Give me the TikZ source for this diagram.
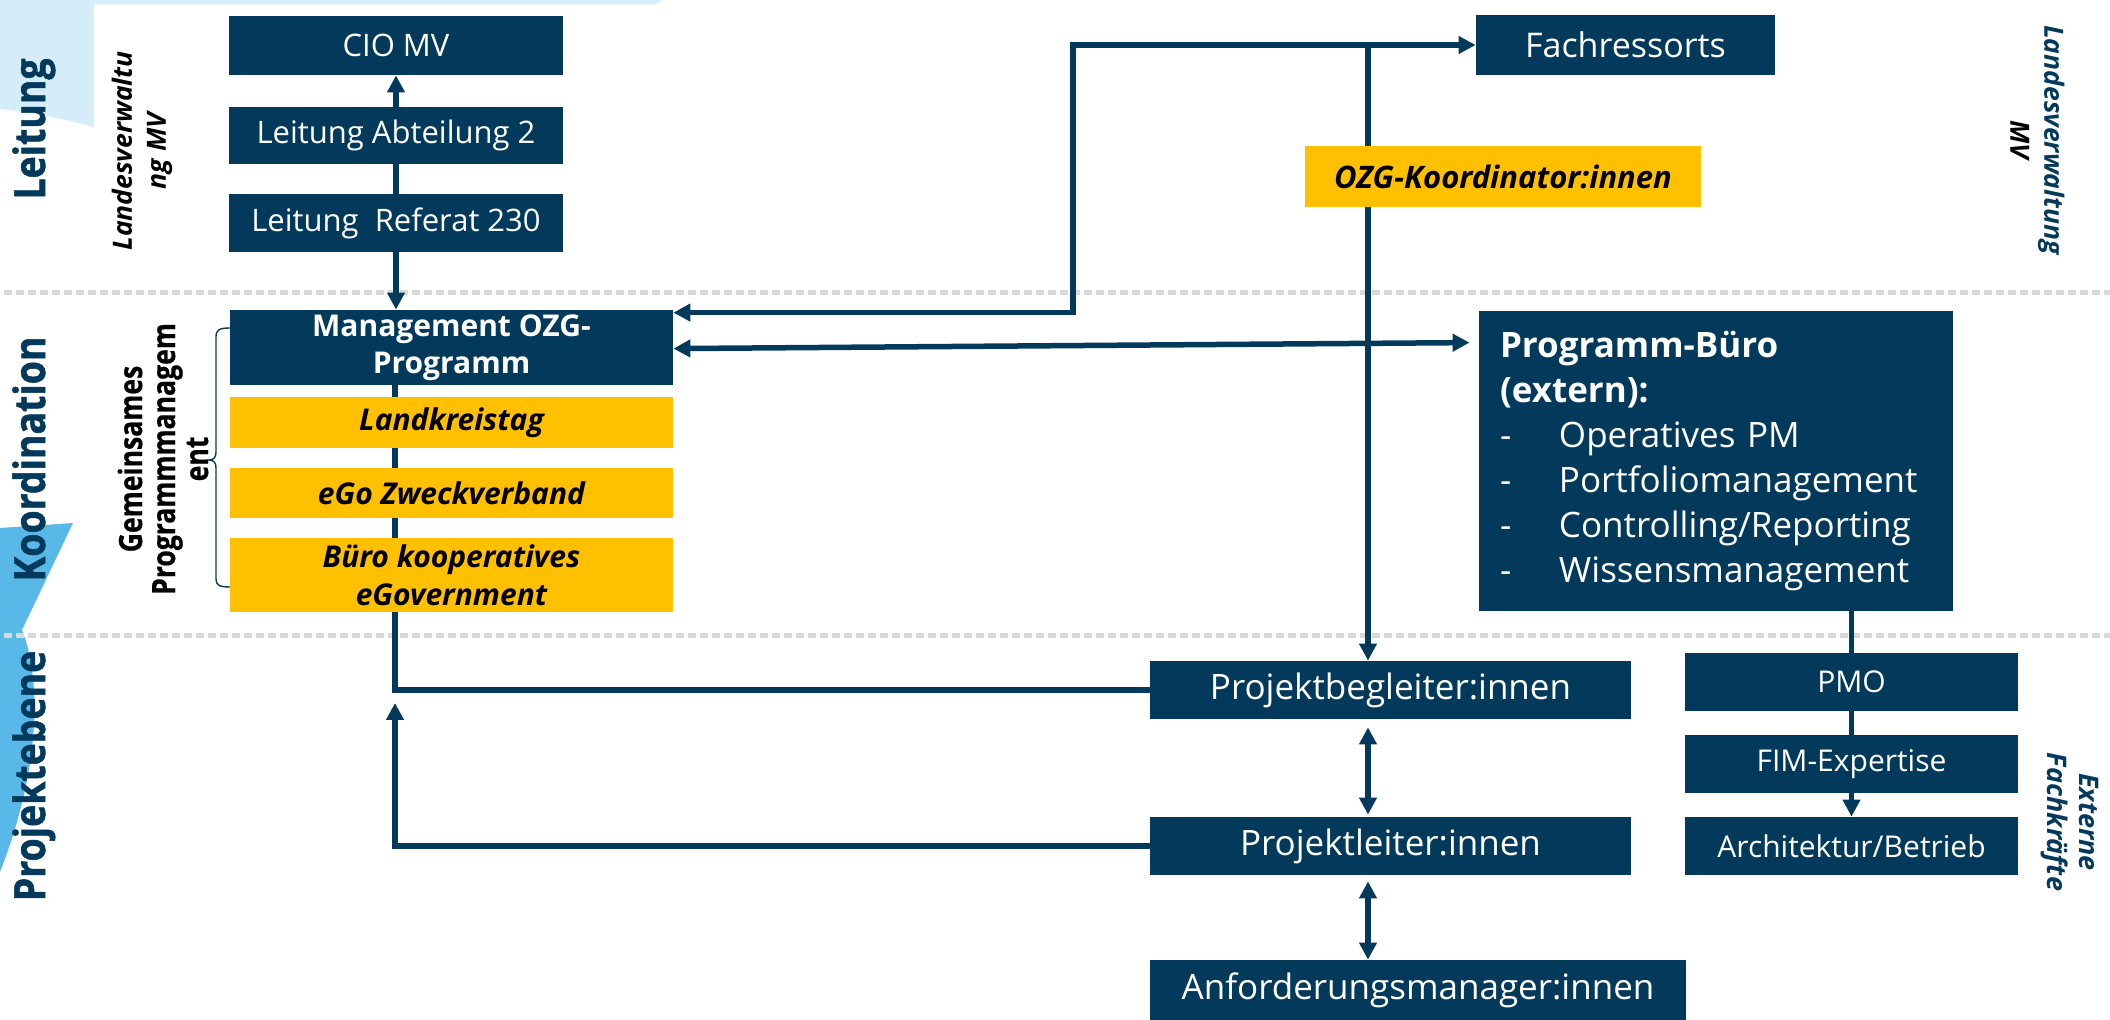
\documentclass[tikz,border=0pt]{standalone}
\usepackage{fontspec}
\setmainfont{Open Sans}
\newfontfamily\sidefont[FakeStretch=0.87,FakeBold=1.2]{Open Sans}
\newfontfamily\gemfont[FakeStretch=0.83,FakeBold=0.6]{Open Sans}
\usetikzlibrary{arrows.meta,calc}
\definecolor{dblue}{RGB}{3,58,92}
\definecolor{ygold}{RGB}{255,192,0}
\definecolor{lblue}{RGB}{213,236,249}
\definecolor{mblue}{RGB}{88,184,231}
\definecolor{dotgray}{RGB}{217,217,217}
\pgfdeclarelayer{bg}
\pgfsetlayers{bg,main}
\tikzset{
  wh/.style 2 args={minimum width=#1*0.5pt, minimum height=#2*0.5pt},
  box/.style={fill=dblue, text=white, inner sep=0pt, align=center},
  ybox/.style={fill=ygold, text=black, inner sep=0pt, align=center},
  fsmall/.style={font=\fontsize{15.5pt}{18pt}\selectfont},
  fright/.style={font=\fontsize{15pt}{18pt}\selectfont},
  fbig/.style={font=\fontsize{17.5pt}{21pt}\selectfont},
  fyel/.style={font=\fontsize{15pt}{19pt}\selectfont\bfseries\itshape},
  conn/.style={draw=dblue, line width=2.75pt},
  tipend/.style={-{Triangle[length=8.5pt,width=8.5pt]}},
  tipboth/.style={{Triangle[length=8.5pt,width=8.5pt]}-{Triangle[length=8.5pt,width=8.5pt]}},
  sidelbl/.style={text=dblue, inner sep=0pt, font=\sidefont\bfseries\fontsize{21.5pt}{24pt}\selectfont},
  smalllbl/.style={inner sep=0pt, align=center, font=\bfseries\itshape\fontsize{13.25pt}{17pt}\selectfont},
}
\begin{document}
\begin{tikzpicture}[x=0.5pt,y=-0.5pt]
\useasboundingbox (0,0) rectangle (2110,1020);

% boxes (left column)
\node[box, fsmall, wh={334}{59}] (cio) at (396,45.5) {CIO MV};
\node[box, fsmall, wh={334}{57}] (abt) at (396,135.5) {Leitung Abteilung 2};
\node[box, fsmall, wh={334}{58}] (ref) at (396,223) {Leitung\ \ Referat 230};
\node[box, wh={443}{75}, font=\fontsize{15pt}{18.5pt}\selectfont\bfseries] (mgmt) at (451.5,347.5) {Management OZG-\\Programm};
\node[ybox, fyel, wh={443}{51}] (lkt) at (451.5,422.5) {Landkreistag};
\node[ybox, fyel, wh={443}{50}] (ego) at (451.5,493) {eGo Zweckverband};
\node[ybox, fyel, wh={443}{74}] (buero) at (451.5,575) {Büro kooperatives\\eGovernment};

% middle / right
\node[box, font=\fontsize{17pt}{20pt}\selectfont, wh={299}{60}] (fach) at (1625.5,45) {Fachressorts};
\node[ybox, font=\fontsize{15.5pt}{19pt}\selectfont\bfseries\itshape, wh={396}{61}] (ozgk) at (1503,176.5) {OZG-Koordinator:innen};
\node[box, wh={474}{300}, align=left, text width=216pt, inner xsep=10.5pt,
      font=\fontsize{17.5pt}{22.5pt}\selectfont] (pb) at (1716,461)
  {\textbf{Programm-Büro}\\\textbf{(extern):}\\
   \makebox[29.5pt][l]{-}Operatives PM\\
   \makebox[29.5pt][l]{-}Portfoliomanagement\\
   \makebox[29.5pt][l]{-}Controlling/Reporting\\
   \makebox[29.5pt][l]{-}Wissensmanagement};
\node[box, fbig, wh={481}{58}] (pbeg) at (1390.5,690) {Projektbegleiter:innen};
\node[box, fbig, wh={481}{58}] (pl) at (1390.5,846) {Projektleiter:innen};
\node[box, fbig, wh={536}{60}] (anf) at (1418,990) {Anforderungsmanager:innen};
\node[box, fright, wh={333}{58}] (pmo) at (1851.5,682) {PMO};
\node[box, fright, wh={333}{58}] (fim) at (1851.5,764) {FIM-Expertise};
\node[box, fright, wh={333}{58}] (arch) at (1851.5,846) {Architektur/Betrieb};

% side labels
\node[sidelbl, rotate=90, anchor=base] (lleit) at (45,129) {Leitung};
\node[sidelbl, rotate=90, anchor=base] (lkoord) at (45,459) {Koordination};
\node[sidelbl, rotate=90, anchor=base] (lprojekt) at (45,776) {Projektebene};
\node[smalllbl, rotate=90] (llv) at (142,151) {Landesverwaltu\\ng MV};
\node[inner sep=0pt, align=center, rotate=90, font=\gemfont\bfseries\fontsize{16pt}{16.5pt}\selectfont] (lgem) at (163,459) {Gemeinsames\\Programmmanagem\\ent};
\node[smalllbl, rotate=-90] (rlv) at (2037.5,140) {\textcolor{dblue}{Landesverwaltung}\\MV};
\node[smalllbl, rotate=-90, text=dblue, font=\bfseries\itshape\fontsize{13.5pt}{16pt}\selectfont] (rext) at (2069.5,822) {Externe\\Fachkräfte};

\coordinate (fcorner) at (1073,45);
\coordinate (vj) at (1368,45);
\coordinate (spine) at (395,385);
\coordinate (plup) at (395,703);

\begin{pgfonlayer}{bg}
  % background shapes
  \fill[lblue] (0,0) -- (662,0) -- (655,4.5) -- (94,4.5) -- (94,127) .. controls (60,118) and (30,112) .. (0,109) -- cycle;
  \fill[mblue] (0,528) -- (73,523) -- (22,630) .. controls (42,680) and (40,770) .. (0,872) -- cycle;
  % separators
  \draw[dotgray, line width=2.5pt, dash pattern=on 4pt off 2pt] (4,293) -- (2110,293);
  \draw[dotgray, line width=2.5pt, dash pattern=on 4pt off 2pt] (4,636) -- (2110,636);
  % brace
  \draw[dblue, line width=0.7pt] (230,328) .. controls (219,328) and (216,330) .. (216,337) -- (216,452)
     .. controls (216,457) and (214,460) .. (209,460) .. controls (214,460) and (216,463) .. (216,468)
     -- (216,579) .. controls (216,585) and (219,587) .. (230,587);
  % connectors
  \draw[conn, tipend] (abt.north) -- (cio.south);
  \draw[conn] (ref.north) -- (abt.south);
  \draw[conn, tipend] (ref.south) -- (ref.south |- mgmt.north);
  \draw[conn] (pbeg.west) -| (spine);
  \draw[conn, tipend] (pl.west) -| (plup);
  \draw[conn, tipboth] ($(mgmt.north east)+(0,3)$) -| (fcorner) -- (fach.west);
  \draw[conn, tipend] (vj) -- (vj |- pbeg.north);
  \draw[conn, tipboth] ($(mgmt.north east)+(0,39)$) -- ($(pb.north west)+(-9,32)$);
  \draw[conn, tipboth] ($(vj |- pbeg.south)+(0,8)$) -- ($(vj |- pl.north)+(0,-2)$);
  \draw[conn, tipboth] ($(vj |- pl.south)+(0,6)$) -- (vj |- anf.north);
  \draw[conn] (pmo.north |- pb.south) -- (pmo.north);
  \draw[conn] (pmo.south) -- (fim.north);
  \draw[conn, tipend] (fim.south) -- (arch.north);
\end{pgfonlayer}
\end{tikzpicture}
\end{document}
